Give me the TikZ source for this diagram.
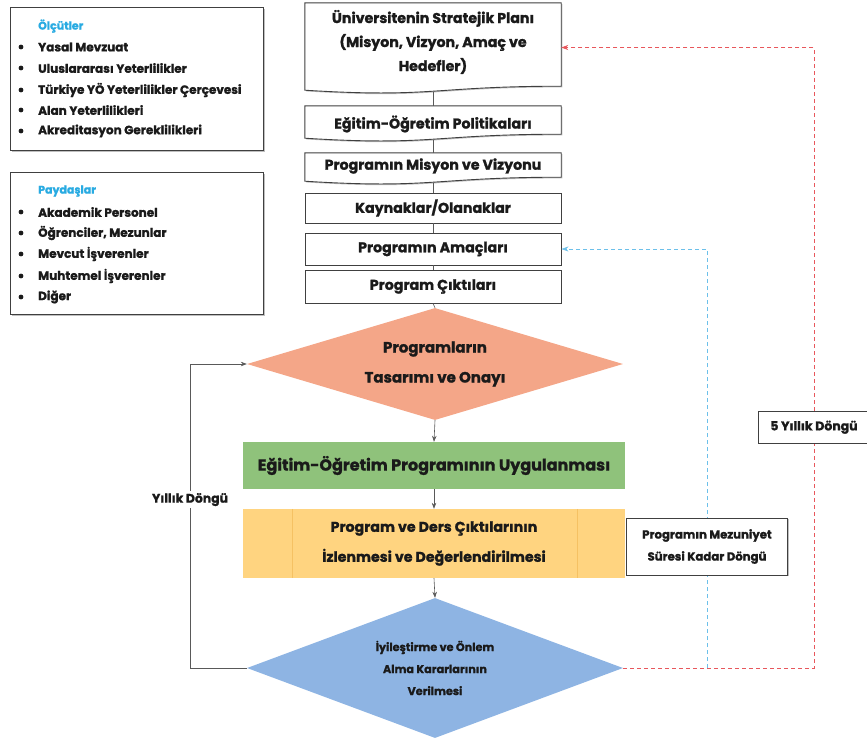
\documentclass[tikz,border=0pt]{standalone}
\usepackage{fontspec}
\setmainfont{Poppins}[BoldFeatures={FakeBold=1.3}]
\usetikzlibrary{shapes.geometric,arrows.meta,shadows}
\definecolor{boxc}{HTML}{404040}
\definecolor{linec}{HTML}{595959}
\definecolor{titlec}{HTML}{29ABE2}
\definecolor{salmon}{HTML}{F4A688}
\definecolor{greenb}{HTML}{8FC27B}
\definecolor{orangeb}{HTML}{FFD480}
\definecolor{orangel}{HTML}{F5C163}
\definecolor{blued}{HTML}{8EB4E3}
\definecolor{redl}{HTML}{E8575C}
\definecolor{bluel}{HTML}{6CC0EA}
\definecolor{txt}{HTML}{1A1A1A}
\pgfdeclarelayer{bg}
\pgfsetlayers{bg,main}
\begin{document}
\begin{tikzpicture}[x=1pt,y=-1pt,
  shad/.style={drop shadow={shadow xshift=1.2pt,shadow yshift=-1.2pt,opacity=0.25,fill=black}},
  box/.style={draw=boxc, line width=0.9pt, fill=white, shad},
  tb/.style={box, minimum width=256pt, inner sep=0pt, text=txt, font=\bfseries\fontsize{14.2}{24}\selectfont, align=center},
  tbt/.style={minimum width=256pt, inner sep=0pt, text=txt, font=\bfseries\fontsize{14.2}{24}\selectfont, align=center},
  doc/.style={draw=boxc, line width=0.9pt, fill=white, shad},
  item/.style={anchor=west, inner sep=0pt, text=txt, font=\bfseries\fontsize{12}{14}\selectfont},
  ttl/.style={anchor=west, inner sep=0pt, text=titlec, font=\bfseries\fontsize{11}{13}\selectfont},
  conn/.style={draw=linec, line width=0.6pt},
  arr/.style={conn, -{Stealth[length=6pt,width=4.5pt]}},
  reddash/.style={draw=redl, line width=0.7pt, dash pattern=on 4pt off 3pt, -{Stealth[length=7pt,width=5pt]}, color=redl},
  bluedash/.style={draw=bluel, line width=0.7pt, dash pattern=on 4pt off 3pt, -{Stealth[length=7pt,width=5pt]}, color=bluel},
  cyc/.style={box, solid, text=txt, inner sep=0pt, align=center},
  lbl/.style={fill=white, text=txt, inner sep=2pt, font=\bfseries\fontsize{12.4}{14}\selectfont}
]
\useasboundingbox (0,0) rectangle (867,742);

% legend boxes
\node[box, minimum width=253pt, minimum height=143pt, inner sep=0pt, anchor=north west] (crit) at (10,7) {};
\node[ttl] (critT) at (38,26) {Ölçütler};
\node[item] (c1) at (38,47) {Yasal Mevzuat};
\node[item] (c2) at (38,68) {Uluslararası Yeterlilikler};
\node[item] (c3) at (38,90) {Türkiye YÖ Yeterlilikler Çerçevesi};
\node[item] (c4) at (38,110) {Alan Yeterlilikleri};
\node[item] (c5) at (38,131) {Akreditasyon Gereklilikleri};
\foreach \y in {47,68,90,110,131} \fill[txt] (21,\y) circle[radius=2.4pt];

\node[box, minimum width=253pt, minimum height=142pt, inner sep=0pt, anchor=north west] (pay) at (10,172) {};
\node[ttl] (payT) at (38,191) {Paydaşlar};
\node[item] (p1) at (38,212) {Akademik Personel};
\node[item] (p2) at (38,233) {Öğrenciler, Mezunlar};
\node[item] (p3) at (38,254) {Mevcut İşverenler};
\node[item] (p4) at (38,276) {Muhtemel İşverenler};
\node[item] (p5) at (38,297) {Diğer};
\foreach \y in {212,233,254,276,297} \fill[txt] (21,\y) circle[radius=2.4pt];

% top column
\node[tbt, minimum height=89pt] (strat) at (433,47.5) {};
\node[tbt] (stratT) at (433,42) {Üniversitenin Stratejik Planı\\(Misyon, Vizyon, Amaç ve\\Hedefler)};
\node[tbt, minimum height=34pt] (pol) at (433,123) {};
\node[tbt] (polT) at (433,124) {Eğitim-Öğretim Politikaları};
\node[tbt, minimum height=30pt] (mis) at (433,168) {};
\node[tbt] (misT) at (433,166) {Programın Misyon ve Vizyonu};
\node[tb, minimum height=30pt] (kay) at (433,208) {Kaynaklar/Olanaklar};
\node[tb, minimum height=32pt] (amac) at (433,249) {Programın Amaçları};
\node[tb, minimum height=33pt] (cikti) at (433,286.5) {Program Çıktıları};

\begin{pgfonlayer}{bg}
\foreach \n in {strat,pol,mis}{
  \draw[doc] (\n.north west) -- (\n.north east) -- ([yshift=6pt]\n.south east)
    .. controls ([yshift=6pt]\n.south) and ([yshift=-6pt]\n.south) .. ([yshift=2pt]\n.south west) -- cycle;
}
\draw[conn] (strat.south) -- (pol.north);
\draw[conn] (pol.south) -- (mis.north);
\end{pgfonlayer}
\draw[conn] (mis.south) -- (kay.north);
\draw[conn] (kay.south) -- (amac.north);
\draw[conn] (amac.south) -- (cikti.north);

% main flow
\node[diamond, aspect=3.3, fill=salmon, inner sep=0pt, minimum width=376pt, minimum height=112pt,
      text=txt, align=center, font=\bfseries\fontsize{15}{30}\selectfont] (d1) at (435,364) {Programların\\Tasarımı ve Onayı};
\node[fill=greenb, minimum width=382pt, minimum height=47pt, inner sep=0pt, text=txt,
      font=\bfseries\fontsize{16}{18}\selectfont] (grn) at (434,465.5) {Eğitim-Öğretim Programının Uygulanması};
\node[fill=orangeb, minimum width=382pt, minimum height=69pt, inner sep=0pt, text=txt, align=center,
      font=\bfseries\fontsize{14.2}{30}\selectfont] (org) at (434,543.5) {Program ve Ders Çıktılarının\\İzlenmesi ve Değerlendirilmesi};
\draw[orangel, line width=0.8pt] ([xshift=50pt]org.north west) -- ([xshift=50pt]org.south west);
\draw[orangel, line width=0.8pt] ([xshift=-48pt]org.north east) -- ([xshift=-48pt]org.south east);
\node[diamond, aspect=2.7, fill=blued, inner sep=0pt, minimum width=376pt, minimum height=140pt,
      text=txt, align=center, font=\bfseries\fontsize{11.2}{22}\selectfont] (d2) at (435,668) {İyileştirme ve Önlem\\Alma Kararlarının\\Verilmesi};

\draw[conn] (cikti.south) -- (d1.north);
\draw[arr] (d1.south) -- (grn.north);
\draw[arr] (grn.south) -- (org.north);
\draw[arr] (org.south) -- (d2.north);

% loops
\coordinate (lx) at (190,0);
\coordinate (rx) at (814,0);
\coordinate (bx) at (707,0);
\draw[arr] (d2.west) -- (d2.west -| lx) -- (d1.west -| lx) node[pos=0.554, lbl] (yl) {Yıllık Döngü} -- (d1.west);
\draw[reddash] (d2.east) -- (d2.east -| rx) -- (strat.east -| rx)
   node[pos=0.388, cyc, minimum width=112pt, minimum height=32pt, font=\bfseries\fontsize{12.5}{14}\selectfont] (five) {5 Yıllık Döngü}
   -- (strat.east);
\draw[bluedash] (d2.east -| bx) -- (amac.east -| bx)
   node[pos=0.29, cyc, minimum width=161pt, minimum height=57pt, font=\bfseries\fontsize{11.7}{22}\selectfont] (mez) {Programın Mezuniyet\\Süresi Kadar Döngü}
   -- (amac.east);
\end{tikzpicture}
\end{document}
